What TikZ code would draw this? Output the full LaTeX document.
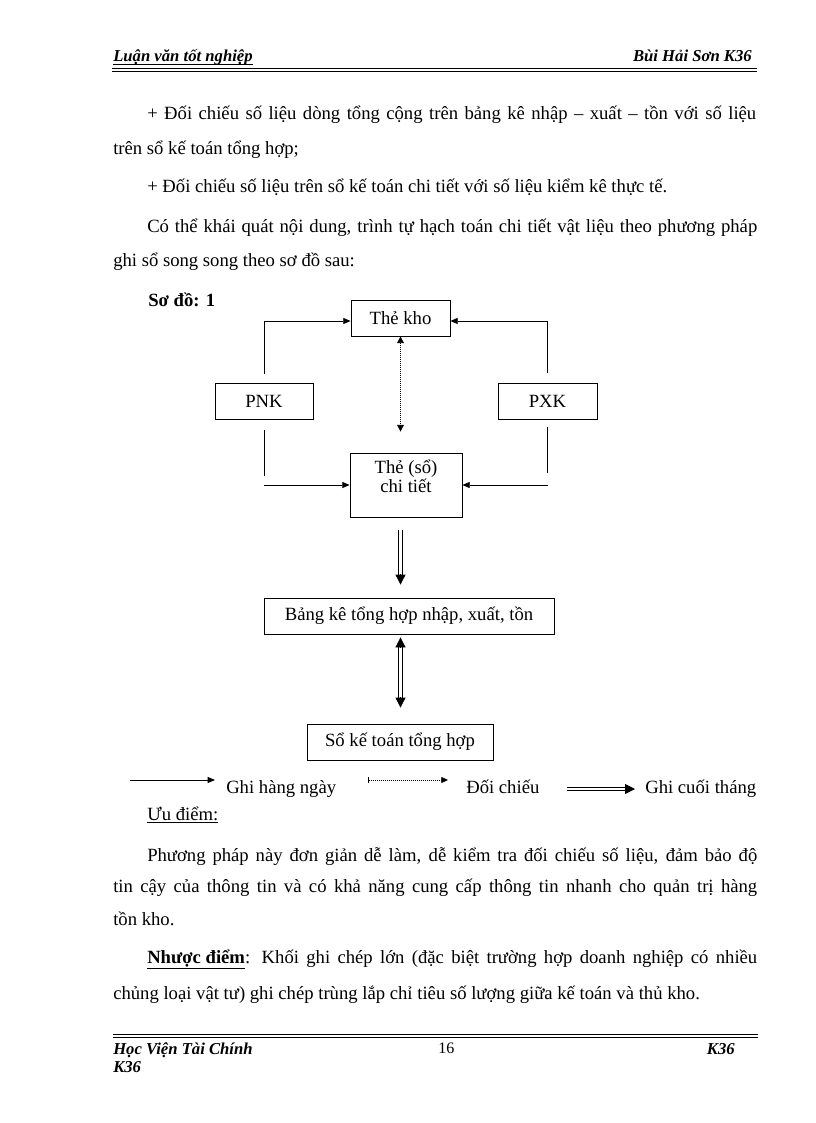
\documentclass[tikz,border=0pt]{standalone}
\usepackage{fontspec}
\setmainfont{Liberation Serif}
\usetikzlibrary{arrows.meta,calc}
\newcommand{\fs}{\fontsize{14pt}{14.5pt}\selectfont}
\newcommand{\hfs}{\fontsize{12.5pt}{14pt}\selectfont\bfseries\itshape}
\begin{document}
\begin{tikzpicture}[x=0.75pt,y=-0.75pt,
  txt/.style={anchor=base west, inner sep=0pt, font=\fs},
  hdr/.style={anchor=base west, inner sep=0pt, font=\hfs},
  box/.style={draw, line width=0.6pt, inner sep=0pt, font=\fs, align=center},
  conn/.style={line width=0.6pt},
  arr/.style={conn, -{Triangle[length=5.5pt,width=4.5pt]}},
  dotarr/.style={line width=0.6pt, dash pattern=on 0.75pt off 0.75pt, {Triangle[length=5pt,width=5pt]}-{Triangle[length=5pt,width=5pt]}},
  dblshaft/.style={line width=0.6pt, double, double distance=2pt},
  dbltip/.style={line width=0.6pt, -{Triangle[length=7.5pt,width=7.5pt]}},
  rule/.style={line width=0.55pt}
]
\useasboundingbox (0,0) rectangle (816,1123);

% header
\node[hdr] (hl) at (113,62) {Luận văn tốt nghiệp};
\node[hdr, anchor=base east] (hr) at (752,62) {Bùi Hải Sơn K36};
\draw[rule] ($(hl.base west)+(0,2.5)$) -- ($(hl.base east)+(0,2.5)$);
\coordinate (hrA) at (112,68.3);
\coordinate (hrB) at (757,68.3);
\draw[rule] (hrA) -- (hrB);
\draw[rule] ($(hrA)+(0,2.6)$) -- ($(hrB)+(0,2.6)$);

% paragraphs
\node[txt] (p1) at (147,120) {\makebox[456.75pt][s]{+ Đối chiếu số liệu dòng tổng cộng trên bảng kê nhập – xuất – tồn với số liệu}};
\node[txt] (p2) at (113,155) {trên sổ kế toán tổng hợp;};
\node[txt] (p3) at (147,193) {+ Đối chiếu số liệu trên sổ kế toán chi tiết với số liệu kiểm kê thực tế.};
\node[txt] (p4) at (147,233) {\makebox[457.5pt][s]{Có thể khái quát nội dung, trình tự hạch toán chi tiết vật liệu theo phương pháp}};
\node[txt] (p5) at (113,267) {ghi sổ song song theo sơ đồ sau:};
\node[txt, font=\fs\bfseries] (sd) at (148,306) {Sơ đồ: 1};

% diagram boxes
\node[box, minimum width=74.25pt, minimum height=27pt] (thekho) at (400.5,318) {Thẻ kho};
\node[box, minimum width=73.5pt, minimum height=27pt] (pnk) at (264,401) {PNK};
\node[box, minimum width=74.25pt, minimum height=27pt] (pxk) at (547.5,401) {PXK};
\node[box, minimum width=84pt, minimum height=48pt, text depth=13pt] (chitiet) at (406,485) {Thẻ (sổ)\\chi tiết};
\node[box, minimum width=217.5pt, minimum height=27pt] (bangke) at (409,616) {Bảng kê tổng hợp nhập, xuất, tồn};
\node[box, minimum width=139.5pt, minimum height=27pt] (sokt) at (400,742) {Sổ kế toán tổng hợp};

% connectors
\draw[arr] ($(pnk.north)+(0,-9)$) |- ($(thekho.west)+(0,3)$);
\draw[arr] ($(pxk.north)+(0,-10)$) |- ($(thekho.east)+(0,3)$);
\draw[conn] ($(pnk.south)+(0,11)$) -- ($(pnk.south)+(0,57)$);
\draw[arr] (pnk.south |- chitiet.center) -- (chitiet.west);
\draw[conn] ($(pxk.south)+(0,8)$) -- ($(pxk.south)+(0,54)$);
\draw[arr] (pxk.south |- chitiet.center) -- (chitiet.east);
\draw[dotarr] (thekho.south) -- ($(thekho.south |- chitiet.north)+(0,-21)$);

% double arrow chi tiet -> bang ke
\coordinate (d1s) at ($(thekho.south |- chitiet.south)+(0,13)$);
\coordinate (d1e) at ($(thekho.south |- bangke.north)+(0,-13)$);
\draw[dblshaft] (d1s) -- ($(d1e)+(0,-8)$);
\draw[dbltip] ($(d1e)+(0,-10.5)$) -- (d1e);

% double bidirectional bang ke <-> so ke toan
\coordinate (d2s) at ($(thekho.south |- bangke.south)+(0,3)$);
\coordinate (d2e) at ($(thekho.south |- sokt.north)+(0,-16)$);
\draw[dblshaft] ($(d2s)+(0,8)$) -- ($(d2e)+(0,-8)$);
\draw[dbltip] ($(d2s)+(0,10.5)$) -- (d2s);
\draw[dbltip] ($(d2e)+(0,-10.5)$) -- (d2e);

% legend
\coordinate (l1a) at (130,780);
\coordinate (l1b) at (215,780);
\draw[arr] (l1a) -- (l1b);
\node[txt] (lt1) at (226,793) {Ghi hàng ngày};
\coordinate (l2a) at (368,780);
\coordinate (l2b) at (448,780);
\draw[line width=0.6pt, dash pattern=on 0.75pt off 0.75pt, {Bar[width=4pt]}-{Triangle[length=5pt,width=4.5pt]}] (l2a) -- (l2b);
\node[txt] (lt2) at (466,793) {Đối chiếu};
\coordinate (l3a) at (567,789);
\coordinate (l3b) at (635,789);
\draw[dblshaft] (l3a) -- ($(l3b)+(-8,0)$);
\draw[dbltip] ($(l3b)+(-10.5,0)$) -- (l3b);
\node[txt] (lt3) at (645,793) {Ghi cuối tháng};

% advantages
\node[txt] (uu) at (147,820) {\underline{Ưu điểm:}};
\node[txt] (q1) at (147,861) {\makebox[457.5pt][s]{Phương pháp này đơn giản dễ làm, dễ kiểm tra đối chiếu số liệu, đảm bảo độ}};
\node[txt] (q2) at (113,892) {\makebox[483pt][s]{tin cậy của thông tin và có khả năng cung cấp thông tin nhanh cho quản trị hàng}};
\node[txt] (q3) at (113,925) {tồn kho.};
\node[txt] (n1) at (147,963) {\makebox[457.5pt][s]{\textbf{\underline{Nhược điểm}}: Khối ghi chép lớn (đặc biệt trường hợp doanh nghiệp có nhiều}};
\node[txt] (n2) at (113,999) {chủng loại vật tư) ghi chép trùng lắp chỉ tiêu số lượng giữa kế toán và thủ kho.};

% footer
\coordinate (frA) at (113,1034.5);
\coordinate (frB) at (758,1034.5);
\draw[rule] (frA) -- (frB);
\draw[rule] ($(frA)+(0,2.6)$) -- ($(frB)+(0,2.6)$);
\node[hdr] (fl) at (113,1054) {Học Viện Tài Chính};
\node[anchor=base west, inner sep=0pt, font=\fontsize{12pt}{14pt}\selectfont] (pg) at (438,1053) {16};
\node[hdr, anchor=base east] (fr) at (735,1054) {K36};
\node[hdr] (fl2) at (113,1072) {K36};
\end{tikzpicture}
\end{document}
